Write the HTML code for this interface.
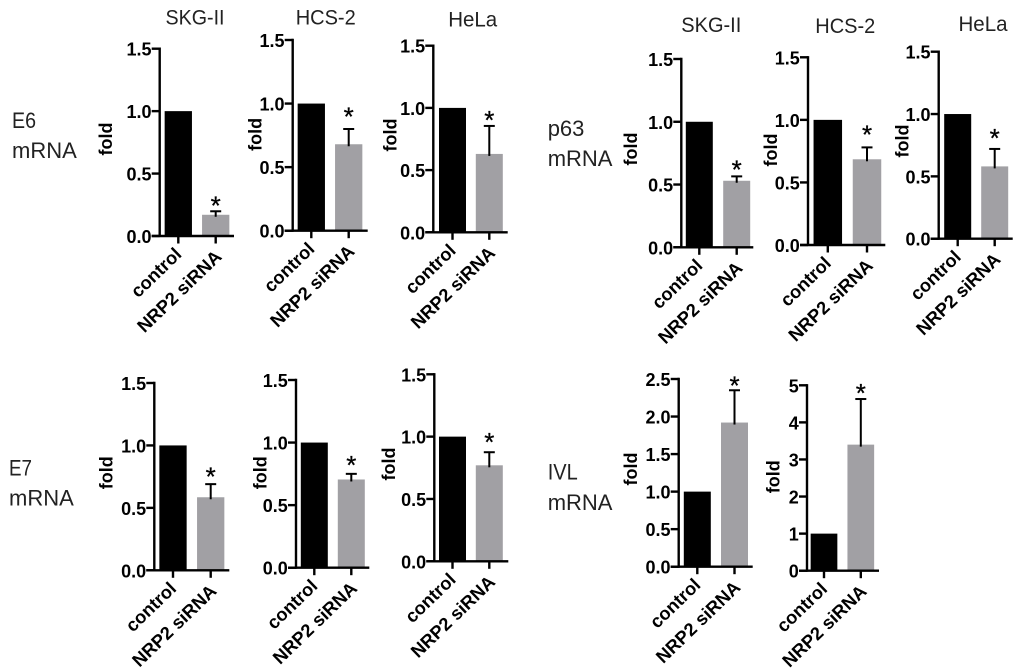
<!DOCTYPE html>
<html lang="en">
<head>
<meta charset="utf-8">
<title>NRP2 siRNA mRNA fold change</title>
<style>
  html, body { margin: 0; padding: 0; background: #fff; }
  #figure { display: block; width: 1024px; height: 672px; filter: blur(0.35px); }
  .heading { font-family: "Liberation Sans", sans-serif; font-size: 21.5px; fill: #222; }
  .side { font-family: "Liberation Sans", sans-serif; font-size: 22px; fill: #222; }
  .tick-label { font-family: "Liberation Sans", sans-serif; font-size: 18px; font-weight: bold; fill: #000; text-anchor: end; }
  .fold { font-family: "Liberation Sans", sans-serif; font-size: 18px; font-weight: bold; fill: #000; text-anchor: middle; }
  .cat { font-family: "Liberation Sans", sans-serif; font-size: 18.3px; font-weight: bold; fill: #000; text-anchor: end; }
  .star { font-family: "Liberation Sans", sans-serif; font-size: 26px; font-weight: normal; fill: #000; stroke: #000; stroke-width: 0.3; text-anchor: middle; }
</style>
</head>
<body>
<svg id="figure" xmlns="http://www.w3.org/2000/svg" width="1024" height="672" viewBox="0 0 1024 672">
  <rect x="0" y="0" width="1024" height="672" fill="#fff"/>
  <text class="heading" x="195" y="24.5" text-anchor="middle" textLength="59" lengthAdjust="spacingAndGlyphs">SKG-II</text>
  <text class="heading" x="325.7" y="24.5" text-anchor="middle" textLength="60" lengthAdjust="spacingAndGlyphs">HCS-2</text>
  <text class="heading" x="472.7" y="26.5" text-anchor="middle" textLength="49" lengthAdjust="spacingAndGlyphs">HeLa</text>
  <text class="heading" x="711.3" y="32" text-anchor="middle" textLength="60" lengthAdjust="spacingAndGlyphs">SKG-II</text>
  <text class="heading" x="845.3" y="33" text-anchor="middle" textLength="60" lengthAdjust="spacingAndGlyphs">HCS-2</text>
  <text class="heading" x="983" y="31" text-anchor="middle" textLength="49" lengthAdjust="spacingAndGlyphs">HeLa</text>

  <text class="side" x="12" y="128" textLength="24" lengthAdjust="spacingAndGlyphs">E6</text>
  <text class="side" x="12" y="158">mRNA</text>
  <text class="side" x="547.7" y="136">p63</text>
  <text class="side" x="547.7" y="166">mRNA</text>
  <text class="side" x="9" y="475.7" textLength="23" lengthAdjust="spacingAndGlyphs">E7</text>
  <text class="side" x="9" y="505.7">mRNA</text>
  <text class="side" x="547.7" y="479.5" textLength="30" lengthAdjust="spacingAndGlyphs">IVL</text>
  <text class="side" x="547.7" y="510">mRNA</text>
  <g id="panels"></g>
</svg>

<script>
// Data
const categories = ['control', 'NRP2 siRNA'];
const yAxisTitle = 'fold';
const significanceMark = '*';

const ticksOneFive = ['0.0', '0.5', '1.0', '1.5'];
const ticksTwoFive = ['0.0', '0.5', '1.0', '1.5', '2.0', '2.5'];
const ticksFive = ['0', '1', '2', '3', '4', '5'];

const e6SkgValues = [1, 0.17];
const e6SkgErrors = [0, 0.028];
const e6HcsValues = [1, 0.68];
const e6HcsErrors = [0, 0.12];
const e6HelaValues = [1, 0.63];
const e6HelaErrors = [0, 0.225];

const p63SkgValues = [1, 0.53];
const p63SkgErrors = [0, 0.035];
const p63HcsValues = [1, 0.685];
const p63HcsErrors = [0, 0.095];
const p63HelaValues = [1, 0.58];
const p63HelaErrors = [0, 0.14];

const e7SkgValues = [1, 0.585];
const e7SkgErrors = [0, 0.105];
const e7HcsValues = [1, 0.705];
const e7HcsErrors = [0, 0.045];
const e7HelaValues = [1, 0.77];
const e7HelaErrors = [0, 0.105];

const ivlAValues = [1, 1.92];
const ivlAErrors = [0, 0.43];
const ivlBValues = [1, 3.4];
const ivlBErrors = [0, 1.23];

// Panel geometry, kept apart from the data
const panels = [
  { id: 'e6-skg', values: e6SkgValues, errors: e6SkgErrors, ticks: ticksOneFive,
    box: { axisX: 159.7, xEnd: 234, y0: 236, yTop: 48.7, c0: 178.3, c1: 215.7, barW: 27.3, foldX: 112, foldY: 139, starGap: 10 } },
  { id: 'e6-hcs', values: e6HcsValues, errors: e6HcsErrors, ticks: ticksOneFive,
    box: { axisX: 292.7, xEnd: 367.7, y0: 230.7, yTop: 40, c0: 311.3, c1: 348.7, barW: 27.3, foldX: 261.7, foldY: 134.3, starGap: 16.7 } },
  { id: 'e6-hela', values: e6HelaValues, errors: e6HelaErrors, ticks: ticksOneFive,
    box: { axisX: 433.3, xEnd: 507.7, y0: 232.3, yTop: 45.7, c0: 452.5, c1: 489.3, barW: 27, foldX: 396.7, foldY: 135, starGap: 10 } },
  { id: 'p63-skg', values: p63SkgValues, errors: p63SkgErrors, ticks: ticksOneFive,
    box: { axisX: 681.3, xEnd: 753.3, y0: 247.3, yTop: 59, c0: 699.3, c1: 736.7, barW: 27, foldX: 637, foldY: 149, starGap: 11 } },
  { id: 'p63-hcs', values: p63HcsValues, errors: p63HcsErrors, ticks: ticksOneFive,
    box: { axisX: 808, xEnd: 885.3, y0: 245, yTop: 57.3, c0: 827.8, c1: 867, barW: 28.5, foldX: 777, foldY: 150, starGap: 16.7 } },
  { id: 'p63-hela', values: p63HelaValues, errors: p63HelaErrors, ticks: ticksOneFive,
    box: { axisX: 938.7, xEnd: 1012.7, y0: 238.7, yTop: 51.7, c0: 957.7, c1: 994.7, barW: 27, foldX: 908.7, foldY: 141, starGap: 15 } },
  { id: 'e7-skg', values: e7SkgValues, errors: e7SkgErrors, ticks: ticksOneFive,
    box: { axisX: 154.3, xEnd: 229.3, y0: 570.3, yTop: 383, c0: 173, c1: 210.7, barW: 27.3, foldX: 112.7, foldY: 472.7, starGap: 11.7 } },
  { id: 'e7-hcs', values: e7HcsValues, errors: e7HcsErrors, ticks: ticksOneFive,
    box: { axisX: 296, xEnd: 369.3, y0: 567.7, yTop: 380, c0: 314.3, c1: 351.3, barW: 27, foldX: 266.7, foldY: 472.7, starGap: 13 } },
  { id: 'e7-hela', values: e7HelaValues, errors: e7HelaErrors, ticks: ticksOneFive,
    box: { axisX: 434.3, xEnd: 508.3, y0: 561.3, yTop: 374.3, c0: 452.5, c1: 489.3, barW: 27, foldX: 395, foldY: 464, starGap: 14 } },
  { id: 'ivl-a', values: ivlAValues, errors: ivlAErrors, ticks: ticksTwoFive,
    box: { axisX: 678.7, xEnd: 752.7, y0: 566.7, yTop: 379, c0: 697.3, c1: 734.5, barW: 27, foldX: 637, foldY: 469, starGap: 9 } },
  { id: 'ivl-b', values: ivlBValues, errors: ivlBErrors, ticks: ticksFive,
    box: { axisX: 807, xEnd: 879, y0: 570.7, yTop: 385.3, c0: 824, c1: 860.8, barW: 26.7, foldX: 779.3, foldY: 476.7, starGap: 10 } }
];

const SVG_NS = 'http://www.w3.org/2000/svg';
const root = document.getElementById('panels');

function make(parent, tag, name, props, text) {
  const el = document.createElementNS(SVG_NS, tag);
  
  
  for (const k in props) el.setAttribute(k, props[k]);
  if (text !== undefined) el.textContent = text;
  parent.appendChild(el);
  return el;
}

function makeYScale(box, maxValue) {
  return function (v) { return box.y0 - (v / maxValue) * (box.y0 - box.yTop); };
}

function makeXScale(box) {
  return function (i) { return i === 0 ? box.c0 : box.c1; };
}

function line(parent, name, x1, y1, x2, y2) {
  return make(parent, 'line', name, { x1: x1, y1: y1, x2: x2, y2: y2, stroke: '#000', 'stroke-width': 2.4 });
}

panels.forEach(function (p) {
  const box = p.box;
  const tickValues = p.ticks.map(Number);
  const yScale = makeYScale(box, Math.max.apply(null, tickValues));
  const xScale = makeXScale(box);
  const g = make(root, 'g', 'panel-' + p.id, {});

  // bars
  p.values.forEach(function (v, i) {
    make(g, 'rect', p.id + '-bar-' + (i === 0 ? 'control' : 'nrp2-sirna'), {
      x: xScale(i) - box.barW / 2,
      y: yScale(v),
      width: box.barW,
      height: box.y0 - yScale(v),
      fill: i === 0 ? '#000' : '#a1a0a4'
    });
  });

  // error bar and significance star on the treated bar
  p.values.forEach(function (v, i) {
    if (p.errors[i] <= 0) return;
    const cx = xScale(i);
    const top = yScale(v + p.errors[i]);
    const stem = line(g, p.id + '-error-stem', cx, yScale(v) + 2, cx, top);
    stem.setAttribute('stroke-width', '2');
    const cap = line(g, p.id + '-error-cap', cx - 5.5, top, cx + 5.5, top);
    cap.setAttribute('stroke-width', '2');
    make(g, 'text', p.id + '-significance-star', { class: 'star', x: cx, y: top - box.starGap + 13 }, significanceMark);
  });

  // y axis
  line(g, p.id + '-y-axis', box.axisX, box.yTop - 1.2, box.axisX, box.y0 + 1);
  p.ticks.forEach(function (label, i) {
    const y = yScale(tickValues[i]);
    line(g, p.id + '-y-tick-' + label, box.axisX - 8, y, box.axisX, y);
    make(g, 'text', p.id + '-y-tick-label-' + label, { class: 'tick-label', x: box.axisX - 8.2, y: y + 7 }, label);
  });

  // x axis
  line(g, p.id + '-x-axis', box.axisX - 8, box.y0, box.xEnd, box.y0);
  categories.forEach(function (label, i) {
    const cx = xScale(i);
    line(g, p.id + '-x-tick-' + i, cx, box.y0, cx, box.y0 + 7.5);
    const ax = cx + (i === 0 ? 4.4 : 7);
    const ay = box.y0 + (i === 0 ? 19.5 : 22);
    make(g, 'text', p.id + '-x-label-' + i, { class: 'cat', x: ax, y: ay, transform: 'rotate(-44 ' + ax + ' ' + ay + ')' }, label);
  });

  // y title
  make(g, 'text', p.id + '-y-axis-title', {
    class: 'fold', x: box.foldX, y: box.foldY,
    transform: 'rotate(-90 ' + box.foldX + ' ' + box.foldY + ')'
  }, yAxisTitle);
});
</script>
</body>
</html>
